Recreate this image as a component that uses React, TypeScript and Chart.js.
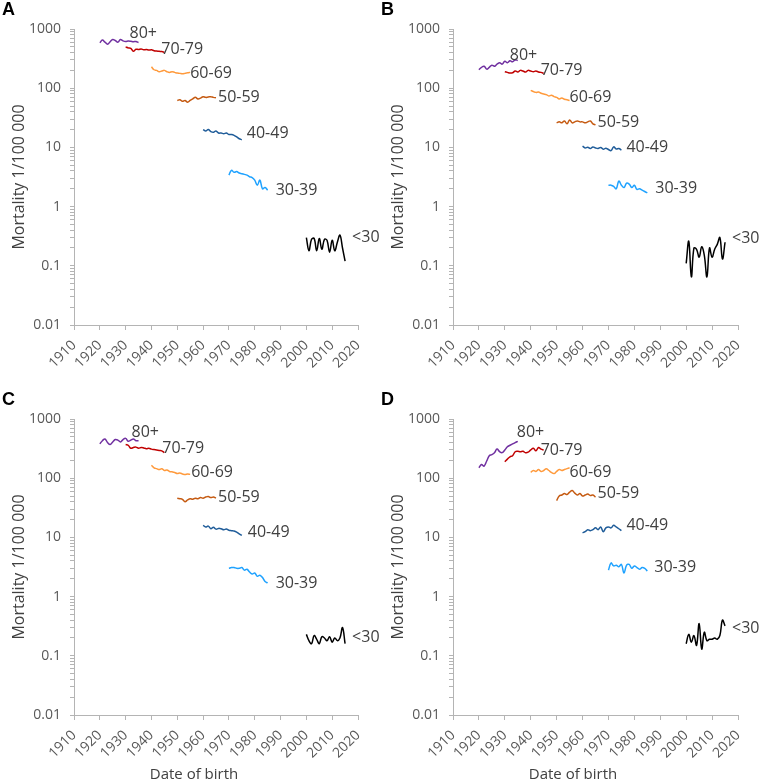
import React, { useEffect, useRef } from 'react';
import { Chart, registerables } from 'chart.js';
Chart.register(...registerables);

// ---------- data ----------
const AGE_GROUPS = ['80+', '70-79', '60-69', '50-59', '40-49', '30-39', '<30'];
const START_YEARS = [1920, 1930, 1940, 1950, 1960, 1970, 2000];
const COLORS = ['#7030A0', '#C00000', '#FF9A3C', '#C55A11', '#1F5C99', '#1FA2FF', '#000000'];

const X_MIN = 1910;
const X_MAX = 2020;
const X_STEP = 10;
const Y_MAJOR = [0.01, 0.1, 1, 10, 100, 1000];
const Y_MINOR_MULT = [2, 3, 4, 5, 6, 7, 8, 9];

const Y_TITLE = 'Mortality 1/100 000';
const X_TITLE = 'Date of birth';

// Panel A
const A_80 = [585, 650, 600, 555, 610, 665, 640, 600, 665, 630, 615, 625, 620, 610, 615, 590];
const A_70 = [500, 480, 470, 420, 455, 450, 460, 445, 450, 440, 445, 430, 425, 420, 415, 405];
const A_60 = [230, 205, 200, 190, 195, 200, 190, 185, 190, 185, 180, 178, 175, 178, 182, 185];
const A_50 = [62, 64, 60, 62, 58, 62, 66, 70, 66, 68, 72, 70, 71, 72, 70, 69];
const A_40 = [20, 19, 20, 18.5, 18, 19, 17.5, 17.5, 17, 17.5, 16.5, 16.5, 16, 15, 14, 13.5];
const A_30 = [3.4, 4.1, 3.8, 3.9, 3.7, 3.6, 3.5, 3.4, 3.2, 3.1, 2.8, 2.3, 2.8, 2.0, 2.1, 1.9];
const A_U30 = [0.3, 0.18, 0.28, 0.29, 0.18, 0.29, 0.19, 0.28, 0.27, 0.17, 0.27, 0.18, 0.25, 0.33, 0.2, 0.12];

// Panel B
const B_80 = [205, 225, 235, 210, 225, 245, 235, 255, 270, 255, 285, 270, 290, 280, 300, 295];
const B_70 = [190, 185, 180, 182, 195, 188, 200, 195, 188, 200, 195, 190, 195, 188, 185, 178];
const B_60 = [92, 88, 85, 86, 82, 80, 78, 74, 76, 72, 70, 66, 68, 65, 64, 62];
const B_50 = [26, 27, 26, 28, 25, 29, 26, 27, 28, 27, 27, 26, 27, 28, 25, 24];
const B_40 = [10.5, 9.8, 10.1, 9.6, 10.2, 9.8, 9.6, 10.0, 9.3, 9.7, 9.2, 8.8, 10.2, 9.4, 9.6, 9.0];
const B_30 = [2.3, 2.3, 2.2, 2.0, 2.7, 2.3, 2.1, 2.5, 2.4, 2.1, 2.3, 1.95, 2.0, 1.9, 1.8, 1.7];
const B_U30 = [0.11, 0.26, 0.065, 0.2, 0.19, 0.14, 0.21, 0.15, 0.065, 0.2, 0.14, 0.19, 0.23, 0.3, 0.13, 0.25];

// Panel C
const C_80 = [380, 430, 460, 400, 370, 410, 450, 440, 410, 450, 470, 420, 440, 460, 430, 430];
const C_70 = [370, 360, 320, 330, 335, 320, 330, 325, 315, 320, 310, 305, 300, 295, 290, 270];
const C_60 = [165, 150, 145, 140, 145, 135, 138, 130, 128, 125, 120, 122, 118, 115, 118, 116];
const C_50 = [46, 45, 44, 40, 43, 45, 44, 46, 45, 47, 46, 48, 49, 47, 48, 46];
const C_40 = [16, 15, 15.5, 14, 14.8, 13.8, 14.2, 14, 13.5, 13.8, 13.2, 13, 12.8, 12.3, 11.5, 10.8];
const C_30 = [3.0, 3.1, 3.1, 3.0, 3.0, 3.1, 2.8, 2.9, 2.6, 2.4, 2.5, 2.2, 2.3, 2.1, 1.8, 1.7];
const C_U30 = [0.23, 0.18, 0.16, 0.22, 0.19, 0.16, 0.21, 0.2, 0.18, 0.21, 0.17, 0.2, 0.18, 0.2, 0.3, 0.16];

// Panel D
const D_80 = [150, 170, 160, 195, 240, 250, 270, 310, 280, 270, 300, 340, 360, 380, 400, 420];
const D_70 = [190, 210, 230, 240, 280, 285, 280, 285, 270, 275, 300, 320, 290, 330, 310, 300];
const D_60 = [125, 135, 130, 140, 130, 135, 145, 135, 125, 120, 130, 140, 135, 140, 145, 150];
const D_50 = [42, 50, 52, 55, 53, 58, 62, 56, 52, 55, 50, 52, 54, 51, 52, 48];
const D_40 = [12, 12.5, 13.5, 13, 13.5, 14.5, 13.5, 15, 12.5, 14.5, 15, 14.5, 16, 15, 14, 13];
const D_30 = [2.8, 3.7, 3.3, 3.4, 3.2, 3.5, 2.5, 3.4, 3.5, 3.0, 3.3, 3.1, 2.9, 3.1, 3.0, 2.7];
const D_U30 = [0.16, 0.23, 0.17, 0.22, 0.15, 0.35, 0.13, 0.25, 0.18, 0.19, 0.19, 0.2, 0.19, 0.22, 0.40, 0.32];

// ---------- styles ----------
const FONT = '"Open Sans", "Noto Sans", sans-serif';
const TICK_COLOR = '#595959';
const AXIS_COLOR = '#b4b4b4';
const LABEL_COLOR = '#404040';

// label offsets (px) from the last point of each line
const A_OFF = [[-9, -9], [-3, -3], [0, 1], [2, 0], [5, -6], [8, 0], [7, -24]];
const B_OFF = [[-8, -5], [-3, -3], [0, -3], [2, -2], [5, -3], [8, -5], [7, -4]];
const C_OFF = [[-7, -8], [-2, -4], [1, -2], [2, -1], [6, -3], [8, 0], [7, -6]];
const D_OFF = [[-1, -9], [-3, 0], [0, 5], [2, -4], [5, -5], [7, -4], [7, 3]];

const PANELS = [
  { letter: 'A', series: [A_80, A_70, A_60, A_50, A_40, A_30, A_U30], off: A_OFF, left: 0, top: 0, w: 379, h: 390, xTitle: false },
  { letter: 'B', series: [B_80, B_70, B_60, B_50, B_40, B_30, B_U30], off: B_OFF, left: 379, top: 0, w: 380, h: 390, xTitle: false },
  { letter: 'C', series: [C_80, C_70, C_60, C_50, C_40, C_30, C_U30], off: C_OFF, left: 0, top: 390, w: 379, h: 393, xTitle: true },
  { letter: 'D', series: [D_80, D_70, D_60, D_50, D_40, D_30, D_U30], off: D_OFF, left: 379, top: 390, w: 380, h: 393, xTitle: true },
];

const isMajor = (v: number) => {
  const l = Math.log10(v);
  return Math.abs(l - Math.round(l)) < 1e-9;
};

const Y_TICK_VALUES: number[] = (() => {
  const out: number[] = [];
  Y_MAJOR.forEach((m, i) => {
    out.push(m);
    if (i < Y_MAJOR.length - 1) Y_MINOR_MULT.forEach((k) => out.push(parseFloat((m * k).toPrecision(3))));
  });
  return out;
})();

const X_TICK_VALUES: number[] = (() => {
  const out: number[] = [];
  for (let v = X_MIN; v <= X_MAX; v += X_STEP) out.push(v);
  return out;
})();

const endLabels = {
  id: 'endLabels',
  afterDatasetsDraw(chart: any, _args: any, opts: any) {
    const ctx = chart.ctx;
    ctx.save();
    ctx.font = `16px ${FONT}`;
    ctx.fillStyle = LABEL_COLOR;
    ctx.textAlign = 'left';
    ctx.textBaseline = 'middle';
    chart.data.datasets.forEach((ds: any, i: number) => {
      const meta = chart.getDatasetMeta(i);
      const pt = meta.data[meta.data.length - 1];
      const [dx, dy] = opts.offsets[i];
      ctx.fillText(ds.label, pt.x + dx, pt.y + dy);
    });
    ctx.restore();
  },
};

function Panel({ p }: { p: any }) {
  const ref = useRef<HTMLCanvasElement>(null);
  useEffect(() => {
    if (!ref.current) return;
    const datasets = p.series.map((vals: number[], i: number) => ({
      label: AGE_GROUPS[i],
      data: vals.map((v, j) => ({ x: START_YEARS[i] + j, y: v })),
      borderColor: COLORS[i],
      backgroundColor: COLORS[i],
      borderWidth: 1.5,
      pointRadius: 0,
      tension: 0.4,
      fill: false,
    }));
    const xAxisH = p.h - 29 - 296;
    const chart = new Chart(ref.current, {
      type: 'line',
      data: { datasets },
      plugins: [endLabels],
      options: {
        animation: false,
        responsive: false,
        devicePixelRatio: 1,
        layout: { padding: { left: 0, top: 29, right: 21, bottom: 0 } },
        plugins: {
          legend: { display: false },
          tooltip: { enabled: false },
          endLabels: { offsets: p.off },
        } as any,
        scales: {
          x: {
            type: 'linear',
            min: X_MIN,
            max: X_MAX,
            afterBuildTicks: (s: any) => {
              s.ticks = X_TICK_VALUES.map((v) => ({ value: v }));
            },
            afterFit: (s: any) => {
              s.height = xAxisH;
            },
            ticks: {
              autoSkip: false,
              maxRotation: 45,
              minRotation: 45,
              padding: 7,
              color: TICK_COLOR,
              font: { family: FONT, size: 14 },
              callback: (v: any) => String(v),
            },
            grid: { drawOnChartArea: false, drawTicks: true, tickLength: 5, color: AXIS_COLOR },
            border: { display: true, color: AXIS_COLOR, width: 1 },
          },
          y: {
            type: 'logarithmic',
            min: 0.01,
            max: 1000,
            afterBuildTicks: (s: any) => {
              s.ticks = Y_TICK_VALUES.map((v) => ({ value: v, major: isMajor(v) }));
            },
            afterFit: (s: any) => {
              s.width = 74;
            },
            ticks: {
              autoSkip: false,
              padding: 9,
              color: TICK_COLOR,
              font: { family: FONT, size: 14 },
              callback: (v: any) => (isMajor(Number(v)) ? String(Number(v)) : ''),
            },
            grid: { drawOnChartArea: false, drawTicks: true, tickLength: 4, color: AXIS_COLOR },
            border: { display: true, color: AXIS_COLOR, width: 1 },
            title: {
              display: true,
              text: Y_TITLE,
              color: LABEL_COLOR,
              font: { family: FONT, size: 16 },
              padding: { top: 10, bottom: 0 },
            },
          },
        },
      } as any,
    });
    return () => chart.destroy();
  }, [p]);
  return (
    <div style={{ position: 'absolute', left: p.left, top: p.top, width: p.w, height: p.h }}>
      <canvas ref={ref} width={p.w} height={p.h} style={{ display: 'block' }} />
      <div
        style={{
          position: 'absolute',
          left: 2,
          top: -1,
          font: 'bold 18px "Liberation Sans", Arial, sans-serif',
          lineHeight: '20px',
          color: '#000',
        }}
      >
        {p.letter}
      </div>
      {p.xTitle && (
        <div
          style={{
            position: 'absolute',
            left: 194,
            top: 374,
            transform: 'translateX(-50%)',
            font: `15px ${FONT}`,
            lineHeight: '18px',
            color: LABEL_COLOR,
            whiteSpace: 'nowrap',
          }}
        >
          {X_TITLE}
        </div>
      )}
    </div>
  );
}

export default function App() {
  return (
    <div style={{ position: 'absolute', left: 0, top: 0, width: 759, height: 783, background: '#fff' }}>
      {PANELS.map((p) => (
        <Panel key={p.letter} p={p} />
      ))}
    </div>
  );
}
